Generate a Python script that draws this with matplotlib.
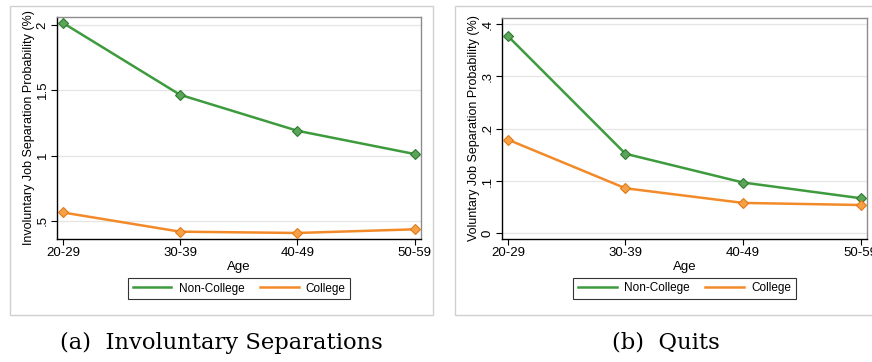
import matplotlib
matplotlib.use("Agg")
import matplotlib.pyplot as plt
from matplotlib.patches import Rectangle
from matplotlib.ticker import FuncFormatter

plt.rcParams.update(
    {
        "font.family": ["Liberation Sans", "DejaVu Sans"],
        "font.size": 9,
    }
)

W, H = 872, 362

AGE_GROUPS = ["20-29", "30-39", "40-49", "50-59"]

INVOL_NON_COLLEGE = [2.015, 1.465, 1.19, 1.012]
INVOL_COLLEGE = [0.565, 0.418, 0.408, 0.436]

QUITS_NON_COLLEGE = [0.377, 0.152, 0.097, 0.067]
QUITS_COLLEGE = [0.179, 0.086, 0.058, 0.054]

INVOL_TICKS = [0.5, 1.0, 1.5, 2.0]
QUITS_TICKS = [0.0, 0.1, 0.2, 0.3, 0.4]

GREEN = "#3d9b3d"
GREEN_EDGE = "#2f7a2f"
GREEN_FILL = "#5aa55a"
ORANGE = "#f28a2a"
ORANGE_EDGE = "#e07a18"
ORANGE_FILL = "#f7a046"


def px_axes(fig, x0, y0, x1, y1):
    # pixel box (top-left origin) -> figure axes
    return fig.add_axes([x0 / W, (H - y1) / H, (x1 - x0) / W, (y1 - y0) / H])


def stata_num(v, _pos=None):
    s = f"{v:g}"
    if s.startswith("0.") and s != "0":
        s = s[1:]
    return s


def draw_panel(ax, non_college, college, yticks, ylim, ylabel):
    x = list(range(len(AGE_GROUPS)))
    ax.plot(x, non_college, color=GREEN, lw=1.8, marker="D", ms=5,
            mfc=GREEN_FILL, mec=GREEN_EDGE, mew=0.8, label="Non-College", zorder=3)
    ax.plot(x, college, color=ORANGE, lw=1.8, marker="D", ms=5,
            mfc=ORANGE_FILL, mec=ORANGE_EDGE, mew=0.8, label="College", zorder=3)

    ax.set_xlim(-0.05, 3.055)
    ax.set_ylim(*ylim)
    ax.set_xticks(x)
    ax.set_xticklabels(AGE_GROUPS, fontsize=9.5)
    ax.set_yticks(yticks)
    ax.yaxis.set_major_formatter(FuncFormatter(stata_num))
    for lab in ax.get_yticklabels():
        lab.set_rotation(90)
        lab.set_va("center")
    ax.tick_params(axis="y", labelsize=9.5, length=4, width=0.8, pad=2)
    ax.tick_params(axis="x", length=4, width=0.8, pad=2)

    ax.grid(axis="y", color="#e6e6e6", lw=1.0)
    ax.set_axisbelow(True)

    ax.spines["left"].set_color("black")
    ax.spines["bottom"].set_color("black")
    ax.spines["top"].set_color("#8c8c8c")
    ax.spines["right"].set_color("#8c8c8c")
    for sp in ax.spines.values():
        sp.set_linewidth(1.0)

    ax.set_xlabel("Age", fontsize=9.5, labelpad=1)
    ax.set_ylabel(ylabel, fontsize=9, labelpad=1)

    leg = ax.legend(loc="center", bbox_to_anchor=(0.5, -0.223), ncol=2,
                    frameon=True, fancybox=False, edgecolor="black",
                    fontsize=8.5, handlelength=3.3, columnspacing=1.3,
                    borderpad=0.4, handletextpad=0.6)
    leg.get_frame().set_linewidth(0.8)
    for h in leg.legend_handles:
        h.set_marker("")


fig = plt.figure(figsize=(W / 100, H / 100), dpi=100)

# outer gray frames of the two graphs
fig.patches.append(Rectangle((10 / W, (H - 315) / H), 423 / W, 309 / H,
                             transform=fig.transFigure, fill=False,
                             edgecolor="#d0d0d0", lw=1.0))
fig.patches.append(Rectangle((455 / W, (H - 315) / H), 440 / W, 309 / H,
                             transform=fig.transFigure, fill=False,
                             edgecolor="#d0d0d0", lw=1.0))

ax1 = px_axes(fig, 57, 17, 421, 239)
draw_panel(ax1, INVOL_NON_COLLEGE, INVOL_COLLEGE, INVOL_TICKS, (0.362, 2.06),
           "Involuntary Job Separation Probability (%)")

ax2 = px_axes(fig, 502, 18, 867, 239)
draw_panel(ax2, QUITS_NON_COLLEGE, QUITS_COLLEGE, QUITS_TICKS, (-0.011, 0.4115),
           "Voluntary Job Separation Probability (%)")

fig.text(221 / W, (H - 343) / H, "(a)  Involuntary Separations",
         family="DejaVu Serif", fontsize=16.3, ha="center", va="center")
fig.text(666 / W, (H - 343) / H, "(b)  Quits",
         family="DejaVu Serif", fontsize=16.3, ha="center", va="center")

fig.savefig("out.png", dpi=100)
